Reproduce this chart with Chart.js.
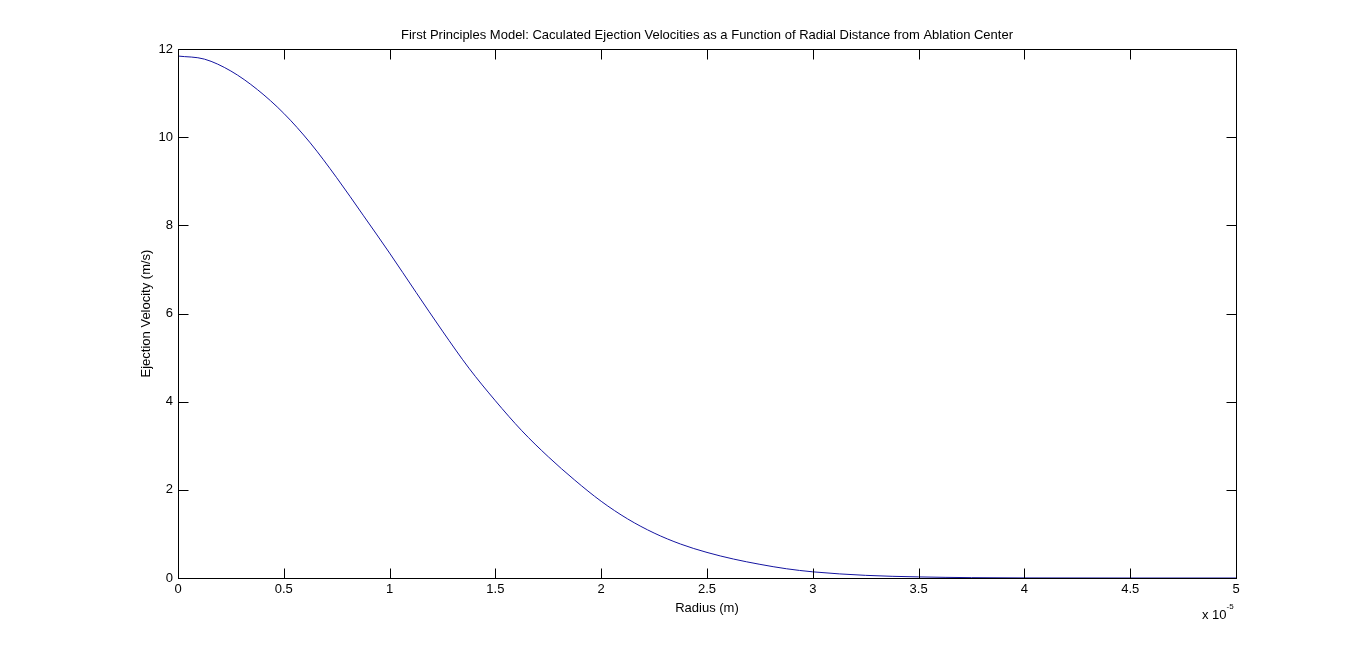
<!DOCTYPE html>
<html>
<head>
<meta charset="utf-8">
<title>Ejection Velocity vs Radius</title>
<script src="https://cdn.jsdelivr.net/npm/chart.js@4.4.1/dist/chart.umd.min.js"></script>
<style>
  html, body { margin: 0; padding: 0; background: #fff; }
  #wrap { width: 1366px; height: 651px; }
</style>
</head>
<body>
<div id="wrap"><canvas id="chart" width="1366" height="651"></canvas></div>
<script>
// radius in units of 1e-5 m, velocity in m/s
const radius = [0, 0.125, 0.25, 0.375, 0.5, 0.625, 0.75, 0.875, 1.0, 1.125, 1.25, 1.375, 1.5, 1.625, 1.75, 1.875,
  2.0, 2.125, 2.25, 2.375, 2.5, 2.625, 2.75, 2.875, 3.0, 3.25, 3.5, 3.75, 4.0, 4.5, 5.0];
const velocity = [11.84, 11.77, 11.5, 11.08, 10.54, 9.87, 9.08, 8.23, 7.37, 6.48, 5.6, 4.76, 4.02, 3.34, 2.75, 2.22,
  1.74, 1.34, 1.02, 0.77, 0.58, 0.43, 0.31, 0.21, 0.14, 0.06, 0.025, 0.008, 0.002, 0, 0];
const xTicks = [0, 0.5, 1, 1.5, 2, 2.5, 3, 3.5, 4, 4.5, 5];
const yTicks = [0, 2, 4, 6, 8, 10, 12];

const FONT = 'Liberation Sans, Arial, Helvetica, sans-serif';

// matlab style box + inward ticks + exponent label
const matlabAxes = {
  id: 'matlabAxes',
  afterDraw(chart) {
    const { ctx, chartArea: a, scales: { x, y } } = chart;
    ctx.save();
    ctx.strokeStyle = '#000';
    ctx.lineWidth = 1;
    const L = Math.round(a.left) + 0.5, R = Math.round(a.right) + 0.5;
    const T = Math.round(a.top) + 0.5, B = Math.round(a.bottom) + 0.5;
    ctx.strokeRect(L, T, R - L, B - T);
    ctx.beginPath();
    x.ticks.forEach(t => {
      const px = Math.round(x.getPixelForValue(t.value)) + 0.5;
      ctx.moveTo(px, B); ctx.lineTo(px, B - 10);
      ctx.moveTo(px, T); ctx.lineTo(px, T + 10);
    });
    y.ticks.forEach(t => {
      const py = Math.round(y.getPixelForValue(t.value)) + 0.5;
      ctx.moveTo(L, py); ctx.lineTo(L + 10, py);
      ctx.moveTo(R, py); ctx.lineTo(R - 10, py);
    });
    ctx.stroke();

    ctx.fillStyle = '#000';
    ctx.textAlign = 'left';
    ctx.textBaseline = 'alphabetic';
    ctx.font = '13px ' + FONT;
    ctx.fillText('x 10', a.right - 34, a.bottom + 41);
    const w = ctx.measureText('x 10').width;
    ctx.font = '8px ' + FONT;
    ctx.fillText('-5', a.right - 34 + w, a.bottom + 31);
    ctx.restore();
  }
};

new Chart(document.getElementById('chart'), {
  type: 'line',
  data: {
    datasets: [{
      data: radius.map((r, i) => ({ x: r, y: velocity[i] })),
      borderColor: '#1414a0',
      borderWidth: 1,
      pointRadius: 0,
      cubicInterpolationMode: 'monotone',
      fill: false
    }]
  },
  options: {
    responsive: false,
    animation: false,
    layout: { padding: { left: 139, right: 130, top: 27.5, bottom: 35 } },
    plugins: {
      legend: { display: false },
      tooltip: { enabled: false },
      title: {
        display: true,
        fullSize: false,
        text: 'First Principles Model: Caculated Ejection Velocities as a Function of Radial Distance from Ablation Center',
        color: '#000',
        font: { family: FONT, size: 13, weight: 'normal' },
        padding: { top: 0, bottom: 5.9 }
      }
    },
    scales: {
      x: {
        type: 'linear',
        min: 0,
        max: 5,
        afterBuildTicks: s => { s.ticks = xTicks.map(v => ({ value: v })); },
        afterFit: s => { s.height = 38; },
        grid: { display: false, drawTicks: false },
        border: { display: false },
        ticks: {
          color: '#000', font: { family: FONT, size: 13 }, padding: 4, maxRotation: 0, autoSkip: false,
          callback: v => String(v)
        },
        title: { display: true, text: 'Radius (m)', color: '#000', font: { family: FONT, size: 13 }, padding: 0 }
      },
      y: {
        min: 0,
        max: 12,
        afterBuildTicks: s => { s.ticks = yTicks.map(v => ({ value: v })); },
        afterFit: s => { s.width = 39; },
        grid: { display: false, drawTicks: false },
        border: { display: false },
        ticks: { color: '#000', font: { family: FONT, size: 13 }, padding: 5, callback: v => String(v) },
        title: { display: true, text: 'Ejection Velocity (m/s)', color: '#000', font: { family: FONT, size: 13 }, padding: 0 }
      }
    }
  },
  plugins: [matlabAxes]
});
</script>
</body>
</html>
